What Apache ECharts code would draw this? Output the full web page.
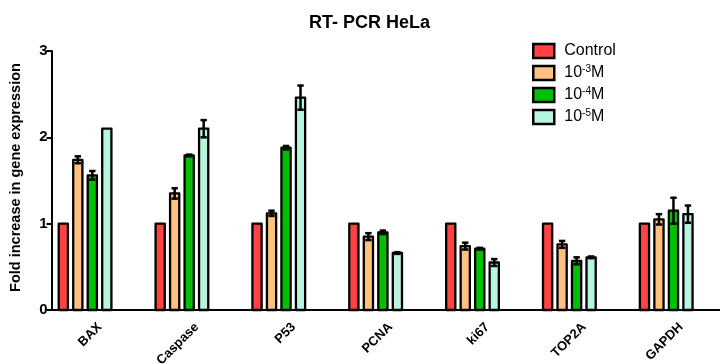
<!DOCTYPE html>
<html>
<head>
<meta charset="utf-8">
<script src="https://cdn.jsdelivr.net/npm/echarts@6/dist/echarts.min.js"></script>
<style>html,body{margin:0;padding:0;background:#fff;}#c{width:720px;height:364px;}</style>
</head>
<body>
<div id="c"></div>
<script>
var categories = ['BAX', 'Caspase', 'P53', 'PCNA', 'ki67', 'TOP2A', 'GAPDH'];
var seriesNames = ['Control', '10-3M', '10-4M', '10-5M'];
var control    = [1.00, 1.00, 1.00, 1.00, 1.00, 1.00, 1.00];
var controlErr = [0, 0, 0, 0, 0, 0, 0];
var dose3      = [1.74, 1.35, 1.12, 0.85, 0.74, 0.76, 1.05];
var dose3Err   = [0.04, 0.06, 0.03, 0.04, 0.04, 0.04, 0.06];
var dose4      = [1.56, 1.79, 1.88, 0.90, 0.71, 0.57, 1.15];
var dose4Err   = [0.05, 0.01, 0.02, 0.02, 0.01, 0.04, 0.15];
var dose5      = [2.10, 2.10, 2.46, 0.66, 0.55, 0.61, 1.11];
var dose5Err   = [0, 0.10, 0.14, 0.01, 0.04, 0.01, 0.10];
var yTicks = [0, 1, 2, 3];

var values = [control, dose3, dose4, dose5];
var errors = [controlErr, dose3Err, dose4Err, dose5Err];
var colors = ['#ff4242', '#ffc182', '#00c000', '#b8f5df'];
var FONT = '"Liberation Sans", Arial, sans-serif';

function makeRender(k) {
  return function (params, api) {
    var idx = api.value(0), val = api.value(1), err = api.value(2);
    var base = api.coord([idx, 0]);
    var top = api.coord([idx, val]);
    var band = api.size([1, 0])[0];
    var cx = base[0] + band * (-0.378 + 0.1497 * k);
    var w = band * 0.095;
    var children = [{
      type: 'rect',
      shape: { x: cx - w / 2, y: top[1], width: w, height: base[1] - top[1] },
      style: { fill: colors[k], stroke: '#000', lineWidth: 2.3, lineJoin: 'round' }
    }];
    if (err > 0) {
      var hi = api.coord([idx, val + err])[1];
      var lo = api.coord([idx, val - err])[1];
      var cap = 3.2;
      children.push({ type: 'line', shape: { x1: cx, y1: hi, x2: cx, y2: lo }, style: { stroke: '#000', lineWidth: 2.5 } });
      children.push({ type: 'line', shape: { x1: cx - cap, y1: hi, x2: cx + cap, y2: hi }, style: { stroke: '#000', lineWidth: 2.5 } });
      children.push({ type: 'line', shape: { x1: cx - cap, y1: lo, x2: cx + cap, y2: lo }, style: { stroke: '#000', lineWidth: 2.5 } });
    }
    return { type: 'group', children: children };
  };
}

var series = seriesNames.map(function (name, k) {
  return {
    type: 'custom',
    name: name,
    renderItem: makeRender(k),
    itemStyle: { color: colors[k], borderColor: '#000', borderWidth: 2.5 },
    encode: { x: 0, y: 1 },
    data: categories.map(function (c, i) { return [i, values[k][i], errors[k][i]]; }),
    clip: false
  };
});

var chart = echarts.init(document.getElementById('c'), null, { renderer: 'canvas' });
chart.setOption({
  animation: false,
  backgroundColor: '#fff',
  textStyle: { fontFamily: FONT },
  title: {
    text: 'RT- PCR HeLa', left: 304, top: 9,
    textStyle: { fontFamily: FONT, fontSize: 18, fontWeight: 'bold', color: '#000' }
  },
  legend: {
    orient: 'vertical', left: 527, top: 37,
    itemWidth: 21, itemHeight: 14, itemGap: 4,
    icon: 'rect',
    data: seriesNames.map(function (n, k) {
      return { name: n, itemStyle: { color: colors[k], borderColor: '#000', borderWidth: 2.5 } };
    }),
    formatter: function (name) {
      var m = name.match(/^10(-\d)M$/);
      return m ? '10{sup|' + m[1] + '}M' : name;
    },
    textStyle: {
      fontFamily: FONT, fontSize: 16, color: '#000', lineHeight: 18, padding: [0, 0, 0, 5],
      rich: { sup: { fontFamily: FONT, fontSize: 10, color: '#000', verticalAlign: 'top', lineHeight: 18 } }
    }
  },
  grid: { left: 51.5, top: 51, width: 678, height: 259, containLabel: false, outerBoundsMode: 'none' },
  xAxis: {
    type: 'category', data: categories,
    axisLine: { lineStyle: { color: '#000', width: 2 } },
    axisTick: { alignWithLabel: true, length: 5, lineStyle: { color: '#000', width: 2 } },
    axisLabel: { rotate: 45, margin: 15, fontFamily: FONT, fontSize: 13, fontWeight: 'bold', color: '#000' }
  },
  yAxis: {
    type: 'value', min: yTicks[0], max: yTicks[yTicks.length - 1], interval: 1,
    name: 'Fold increase in gene expression', nameLocation: 'middle', nameGap: 28,
    nameTextStyle: { fontFamily: FONT, fontSize: 14.5, fontWeight: 'bold', color: '#000', padding: [0, 0, 0, 6] },
    axisLine: { show: true, lineStyle: { color: '#000', width: 2 } },
    axisTick: { show: true, length: 5, lineStyle: { color: '#000', width: 2 } },
    axisLabel: { margin: 4, fontFamily: FONT, fontSize: 15, fontWeight: 'bold', color: '#000' },
    splitLine: { show: false }
  },
  series: series
});
</script>
</body>
</html>
